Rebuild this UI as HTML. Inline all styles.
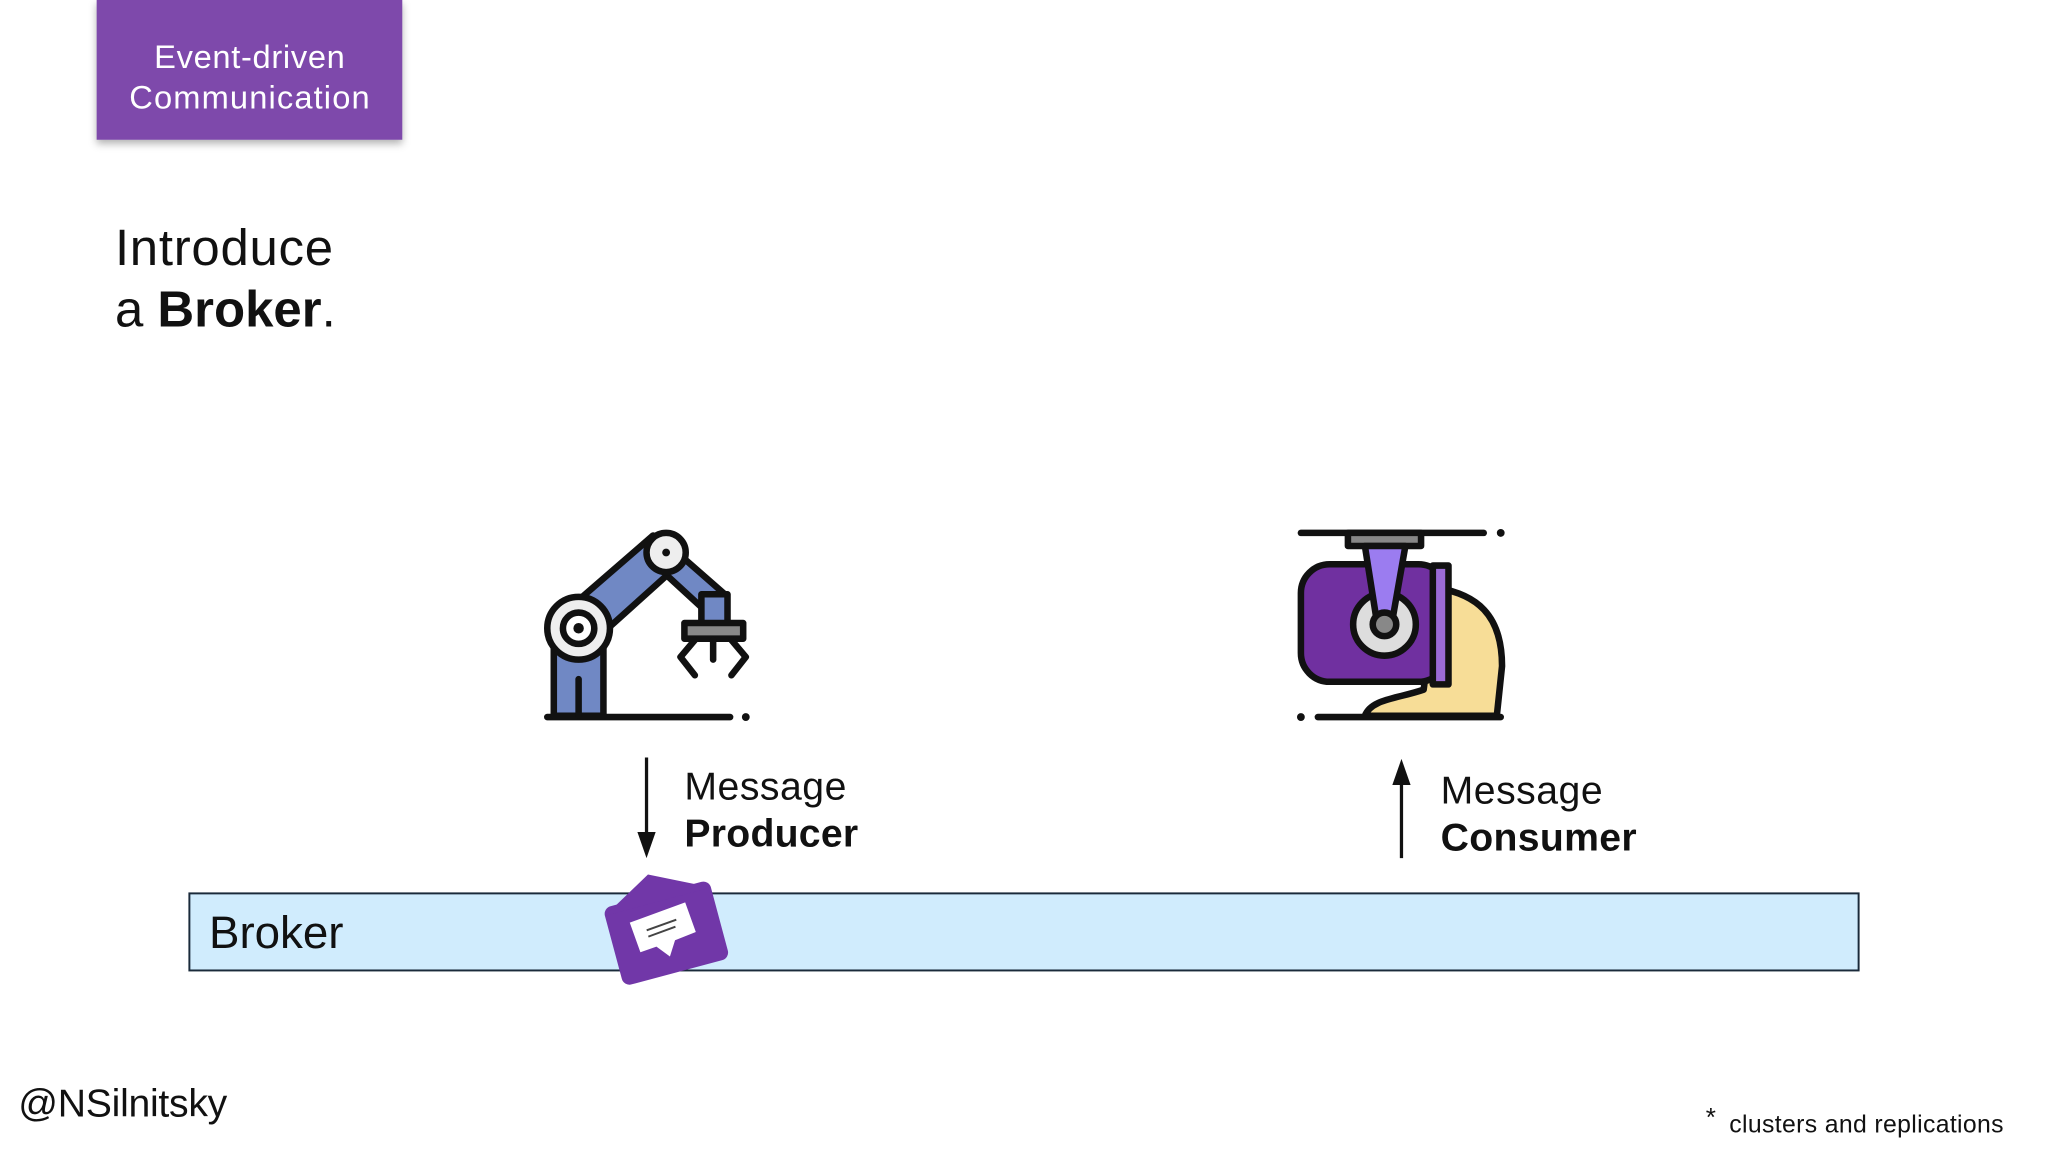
<!DOCTYPE html>
<html><head><meta charset="utf-8"><style>
html,body{margin:0;padding:0;background:#fff;overflow:hidden}
svg{display:block}
text{font-family:"Liberation Sans",sans-serif}
</style></head><body>
<svg width="2048" height="1152" viewBox="0 0 1568 882" xmlns="http://www.w3.org/2000/svg">
<rect width="1568" height="882" fill="#fff"/>
<defs><filter id="sh" x="-10%" y="-10%" width="130%" height="140%"><feDropShadow dx="0" dy="3" stdDeviation="3" flood-opacity="0.3"/></filter></defs>
<rect x="74" y="0" width="234" height="107" fill="#7e4aab" filter="url(#sh)"/>
<text x="191" y="52" font-size="25" fill="#fff" text-anchor="middle" textLength="146">Event-driven</text>
<text x="191" y="83" font-size="25" fill="#fff" text-anchor="middle" textLength="184">Communication</text>
<text x="88" y="203" font-size="39" fill="#111" textLength="167">Introduce</text>
<text x="88" y="250" font-size="39" fill="#111">a <tspan font-weight="bold">Broker</tspan>.</text>

<!-- robot arm -->
<g stroke="#111" stroke-width="5" stroke-linecap="round" stroke-linejoin="round">
<line x1="419" y1="549" x2="559" y2="549"/>
<rect x="424" y="490" width="38" height="58" fill="#7088c4"/>
<line x1="443" y1="520" x2="443" y2="548"/>
<polygon points="440,462 500,410 520,432 460,486" fill="#7088c4"/>
<polygon points="515,420 555,455 548,475 510,440" fill="#7088c4"/>
<rect x="537" y="455" width="20" height="24" fill="#7088c4"/>
<rect x="524" y="477" width="45" height="12" fill="#888"/>
<polyline points="532,490 521,503 532,517" fill="none"/>
<polyline points="560,490 571,503 560,517" fill="none"/>
<line x1="546" y1="490" x2="546" y2="505"/>
<circle cx="443" cy="481" r="24" fill="#eee"/>
<circle cx="443" cy="481" r="12" fill="#fff"/>
<circle cx="510" cy="423" r="15" fill="#eee"/>
</g>
<circle cx="571" cy="549" r="3" fill="#111"/>
<circle cx="443" cy="481" r="4" fill="#111"/>
<circle cx="510" cy="423" r="3" fill="#111"/>

<!-- consumer machine -->
<g stroke="#111" stroke-width="5" stroke-linecap="round" stroke-linejoin="round">
<line x1="996" y1="408" x2="1136" y2="408"/>
<line x1="1009" y1="549" x2="1149" y2="549"/>
<path d="M1100,450 C1130,455 1150,470 1150,510 L1146,548 L1045,548 C1050,535 1070,535 1090,528 Z" fill="#f7dd97"/>
<rect x="996" y="432" width="112" height="90" rx="22" fill="#7030a0"/>
<rect x="1097" y="433" width="12" height="91" fill="#9b6bd6"/>
<rect x="1032" y="408" width="56" height="10" fill="#888"/>
<circle cx="1060" cy="478" r="24" fill="#ddd"/>
<polygon points="1045,418 1076,418 1066,475 1054,475" fill="#9b7cf0"/>
<circle cx="1060" cy="478" r="9" fill="#888"/>
</g>
<circle cx="1149" cy="408" r="3" fill="#111"/>
<circle cx="996" cy="549" r="3" fill="#111"/>

<!-- arrows -->
<line x1="495" y1="580" x2="495" y2="640" stroke="#111" stroke-width="2.5"/>
<polygon points="488,637 502,637 495,657" fill="#111"/>
<line x1="1073" y1="657" x2="1073" y2="598" stroke="#111" stroke-width="2.5"/>
<polygon points="1066,601 1080,601 1073,581" fill="#111"/>
<text x="524" y="612" font-size="30" fill="#111" textLength="124">Message</text>
<text x="524" y="648" font-size="30" font-weight="bold" fill="#111" textLength="133">Producer</text>
<text x="1103" y="615" font-size="30" fill="#111" textLength="124">Message</text>
<text x="1103" y="651" font-size="30" font-weight="bold" fill="#111" textLength="150">Consumer</text>

<!-- broker -->
<rect x="145" y="684" width="1278" height="59" fill="#d0ecfd" stroke="#1a2a3a" stroke-width="1.5"/>
<text x="160" y="726" font-size="35" fill="#111" textLength="103">Broker</text>
<g transform="rotate(-15 508 714)">
<rect x="468" y="684" width="84" height="62" rx="6" fill="#7137a8"/>
<polygon points="468,690 508,668 552,690" fill="#7137a8"/>
<path d="M485,700 L530,696 L532,720 L515,722 L508,733 L500,723 L487,724 Z" fill="#fff"/>
<line x1="496" y1="709" x2="520" y2="707" stroke="#444" stroke-width="1.5"/>
<line x1="496" y1="714" x2="518" y2="712" stroke="#444" stroke-width="1.5"/>
</g>

<text x="14" y="855" font-size="30" fill="#111" textLength="160">@NSilnitsky</text>
<text x="1306" y="862" font-size="20" fill="#111">*</text>
<text x="1324" y="867" font-size="19" fill="#111" textLength="210">clusters and replications</text>
</svg>
</body></html>
